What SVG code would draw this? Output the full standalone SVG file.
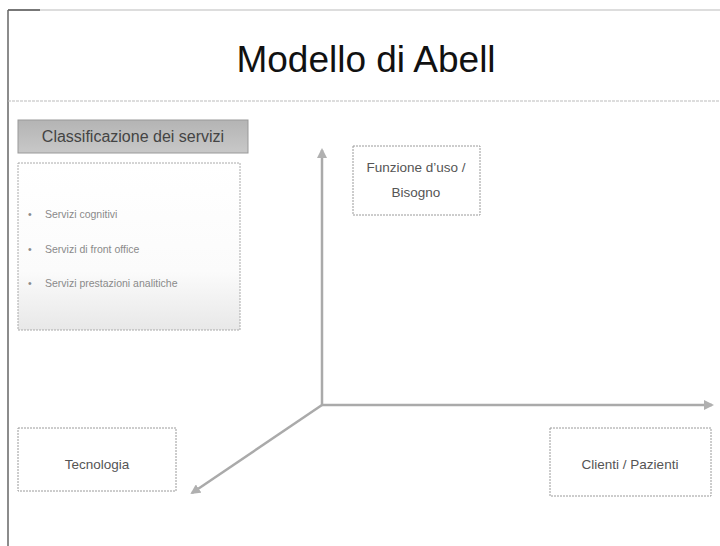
<svg xmlns="http://www.w3.org/2000/svg" width="720" height="546" viewBox="0 0 720 546">
<defs>
<linearGradient id="hdr" x1="0" y1="0" x2="0" y2="1">
<stop offset="0" stop-color="#b4b4b4"/><stop offset="1" stop-color="#c8c8c8"/>
</linearGradient>
<linearGradient id="body" x1="0" y1="0" x2="0" y2="1">
<stop offset="0" stop-color="#ffffff"/><stop offset="0.65" stop-color="#fbfbfb"/><stop offset="1" stop-color="#e8e8e8"/>
</linearGradient>
<marker id="arr" viewBox="0 0 10 10" refX="8" refY="5" markerWidth="4" markerHeight="4" orient="auto" markerUnits="strokeWidth">
<path d="M0,0 L10,5 L0,10 z" fill="#b0b0b0"/>
</marker>
<style>
.box{fill:#fff;stroke:#9a9a9a;stroke-width:1;stroke-dasharray:2 1}
.lbl{font-family:"Liberation Sans",Arial,sans-serif;font-size:13.5px;fill:#555;text-anchor:middle}
.item{font-family:"Liberation Sans",Arial,sans-serif;font-size:10.5px;fill:#8a8a8a}
.axis{stroke:#aaa;stroke-width:2.5;fill:none;marker-end:url(#arr)}
</style>
</defs>
<rect width="720" height="546" fill="#fff"/>
<line x1="8" y1="10" x2="720" y2="10" stroke="#bbb" stroke-width="1"/>
<line x1="8" y1="10" x2="40" y2="10" stroke="#555" stroke-width="1.5"/>
<line x1="8" y1="10" x2="8" y2="546" stroke="#666" stroke-width="1.5"/>
<line x1="8" y1="101" x2="720" y2="101" stroke="#bbb" stroke-width="1" stroke-dasharray="3 1"/>
<text x="366" y="72" font-family="Liberation Sans,Arial,sans-serif" font-size="37" fill="#111" text-anchor="middle">Modello di Abell</text>

<g id="classificazione">
<rect x="18" y="120" width="230" height="33" fill="url(#hdr)" stroke="#999"/>
<text x="133" y="142" font-family="Liberation Sans,Arial,sans-serif" font-size="16" fill="#444" text-anchor="middle">Classificazione dei servizi</text>
<rect x="18" y="163" width="222" height="167" fill="url(#body)" stroke="#aaa" stroke-dasharray="2 1"/>
<text class="item" x="28" y="218">•</text><text class="item" x="45" y="218">Servizi cognitivi</text>
<text class="item" x="28" y="253">•</text><text class="item" x="45" y="253">Servizi di front office</text>
<text class="item" x="28" y="287">•</text><text class="item" x="45" y="287">Servizi prestazioni analitiche</text>
</g>

<g id="connectors">
<line class="axis" x1="322" y1="405" x2="322" y2="150"/>
<line class="axis" x1="322" y1="405" x2="712" y2="405"/>
<line class="axis" x1="322" y1="405" x2="192" y2="493"/>
</g>

<g id="funzione">
<rect class="box" x="353" y="146" width="127" height="69"/>
<text class="lbl" x="416" y="172">Funzione d’uso /</text>
<text class="lbl" x="416" y="197">Bisogno</text>
</g>

<g id="tecnologia">
<rect class="box" x="18" y="428" width="158" height="63"/>
<text class="lbl" x="97" y="469">Tecnologia</text>
</g>

<g id="clienti">
<rect class="box" x="550" y="428" width="161" height="68"/>
<text class="lbl" x="630" y="469">Clienti / Pazienti</text>
</g>
</svg>
